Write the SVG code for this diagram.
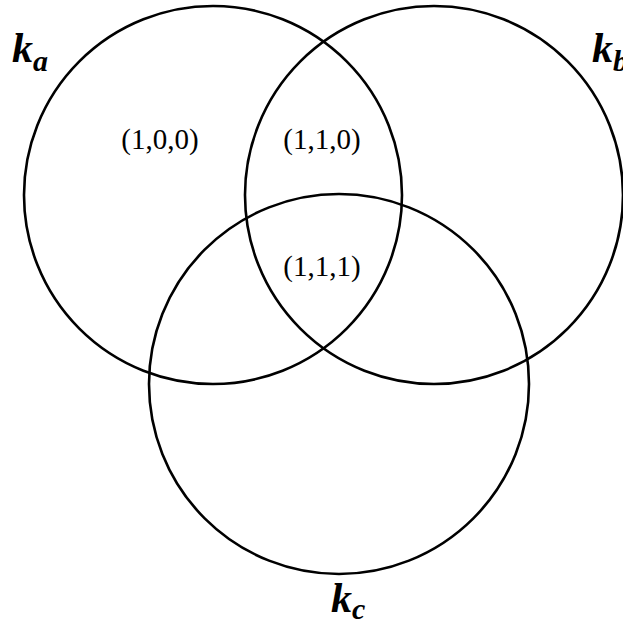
<svg xmlns="http://www.w3.org/2000/svg" width="623" height="625" viewBox="0 0 623 625">
<style>
.c{fill:none;stroke:#000;stroke-width:2.6}
.t{font-family:"Liberation Serif","Times New Roman",serif;font-size:29px;fill:#000;text-anchor:middle}
.k{font-family:"Liberation Serif","Times New Roman",serif;font-weight:bold;font-style:italic;fill:#000;font-size:42px}
.s{font-size:30px}
</style>
<rect width="623" height="625" fill="#fff"/>
<g id="circles">
<circle id="setA" class="c" cx="213" cy="195" r="189"/>
<circle id="setB" class="c" cx="434" cy="195" r="189"/>
<circle id="setC" class="c" cx="339" cy="384" r="190"/>
</g>
<g id="labels">
<text class="t" x="160" y="149">(1,0,0)</text>
<text class="t" x="322" y="149">(1,1,0)</text>
<text class="t" x="322" y="276">(1,1,1)</text>
<text class="k" x="12" y="62">k<tspan class="s" dy="9">a</tspan></text>
<text class="k" x="592" y="62">k<tspan class="s" dy="9">b</tspan></text>
<text class="k" x="331" y="612">k<tspan class="s" dy="7">c</tspan></text>
</g>
</svg>
